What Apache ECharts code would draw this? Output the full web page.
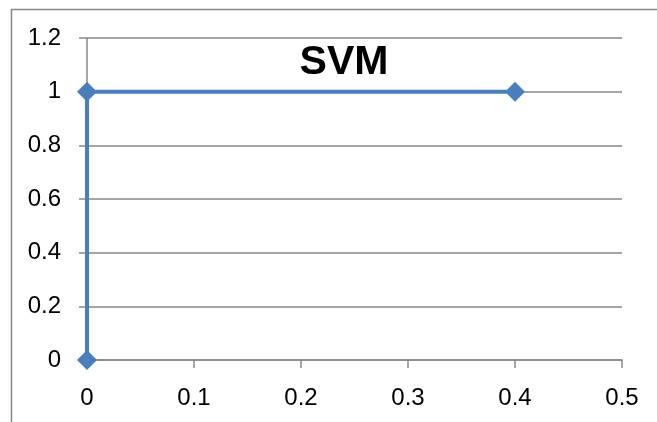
<!DOCTYPE html>
<html>
<head>
<meta charset="utf-8">
<style>
  html, body { margin: 0; padding: 0; background: #fff; }
  #chart { width: 657px; height: 422px; }
</style>
<script src="https://cdn.jsdelivr.net/npm/echarts@6/dist/echarts.min.js"></script>
</head>
<body>
<div id="chart"></div>
<script>
// ROC points for the SVM classifier (false positive rate, true positive rate)
const fpr = [0, 0, 0.4];
const tpr = [0, 1, 1];
const chartTitle = 'SVM';

const chart = echarts.init(document.getElementById('chart'));
const gray = '#888888';
const blue = '#4a7ebb';
const font = '"Liberation Sans", Arial, sans-serif';

chart.setOption({
  animation: false,
  backgroundColor: '#ffffff',
  title: {
    text: chartTitle,
    left: 339,
    top: 37,
    textAlign: 'center',
    textStyle: { fontFamily: font, fontSize: 41, fontWeight: 'bold', color: '#000' }
  },
  graphic: [{
    type: 'rect',
    shape: { x: 11.5, y: 9.5, width: 700, height: 500 },
    style: { fill: 'none', stroke: gray, lineWidth: 1.5 },
    silent: true,
    z: -10
  }],
  grid: { left: 87, right: 35, top: 38, bottom: 62 },
  xAxis: {
    type: 'value',
    min: 0, max: 0.5, interval: 0.1,
    axisLine: { show: true, lineStyle: { color: gray, width: 1.5 } },
    axisTick: { show: true, length: 8, lineStyle: { color: gray, width: 1.5 } },
    splitLine: { show: false },
    axisLabel: { margin: 26, fontFamily: font, fontSize: 24, color: '#000' }
  },
  yAxis: {
    type: 'value',
    min: 0, max: 1.2, interval: 0.2,
    axisLine: { show: true, lineStyle: { color: gray, width: 1.5 } },
    axisTick: { show: true, length: 8, lineStyle: { color: gray, width: 1.5 } },
    splitLine: { show: true, lineStyle: { color: gray, width: 1.5 } },
    axisLabel: {
      margin: 26, fontFamily: font, fontSize: 24, color: '#000',
      formatter: v => String(Math.round(v * 10) / 10)
    }
  },
  series: [{
    type: 'line',
    data: fpr.map((x, i) => [x, tpr[i]]),
    symbol: 'diamond',
    symbolSize: 20,
    showAllSymbol: true,
    lineStyle: { color: blue, width: 4 },
    itemStyle: { color: blue },
    z: 5
  }]
});
</script>
</body>
</html>
